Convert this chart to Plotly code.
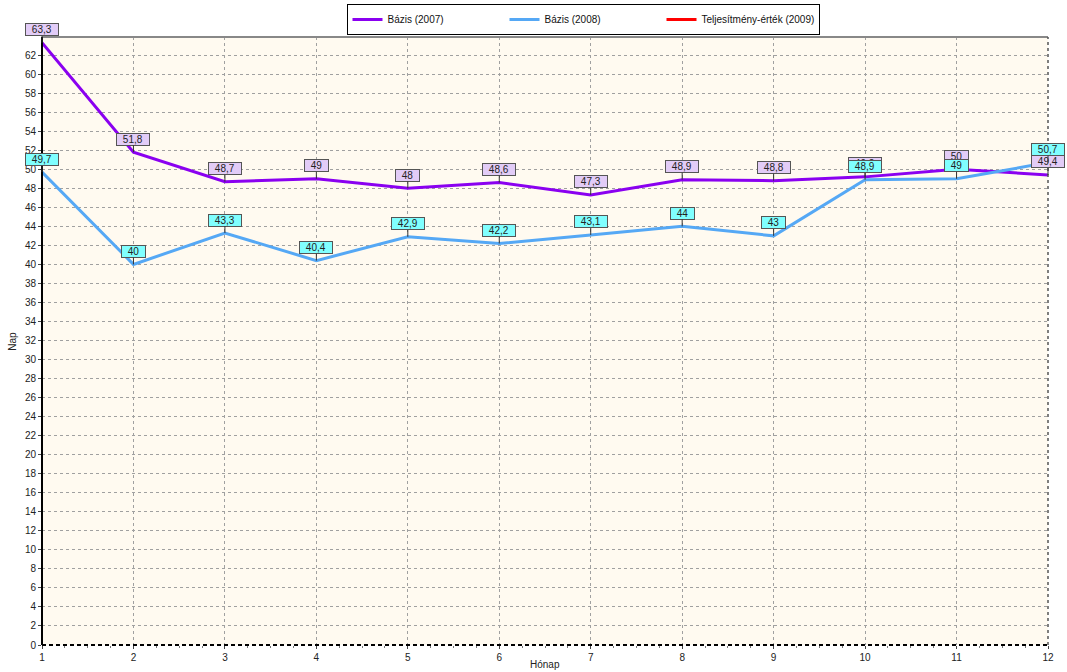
import plotly.graph_objects as go

months = list(range(1, 13))
tick_labels = [str(m) for m in months]
bazis_2007 = [63.3, 51.8, 48.7, 49, 48, 48.6, 47.3, 48.9, 48.8, 49.2, 50, 49.4]
bazis_2008 = [49.7, 40, 43.3, 40.4, 42.9, 42.2, 43.1, 44, 43, 48.9, 49, 50.7]
teljesitmeny_2009 = [None] * 12

C2007 = "#8A00F0"
C2008 = "#55A8F5"
C2009 = "#FF0000"
FONT = "Liberation Sans, Arial, sans-serif"

fig = go.Figure()
fig.add_trace(go.Scatter(x=months, y=bazis_2007, mode="lines", name="Bázis (2007)",
                         line=dict(color=C2007, width=3)))
fig.add_trace(go.Scatter(x=months, y=bazis_2008, mode="lines", name="Bázis (2008)",
                         line=dict(color=C2008, width=3)))
fig.add_trace(go.Scatter(x=months, y=teljesitmeny_2009, mode="lines",
                         name="Teljesítmény-érték (2009)",
                         line=dict(color=C2009, width=3), showlegend=True))

def fmt(v):
    return f"{v:g}".replace(".", ",")

def box_width(s):
    w = 0.0
    for ch in s:
        w += 2.8 if ch == "," else 5.6
    return w + 12

annotations = []
for series, bg in ((bazis_2007, "#E2CCF7"), (bazis_2008, "#80FFFF")):
    for m, v in zip(months, series):
        t = fmt(v)
        annotations.append(dict(
            x=m, y=v, xref="x", yref="y", text=t,
            width=box_width(t), height=11,
            showarrow=True, arrowhead=0, arrowwidth=1, arrowcolor="#333333",
            ax=0, ay=-13, standoff=0,
            bgcolor=bg, bordercolor="#555555", borderwidth=1, borderpad=0,
            font=dict(family=FONT, size=10, color="#222222"),
        ))

annotations.append(dict(text="Nap", xref="paper", yref="paper", x=-0.03, y=0.5,
                        xanchor="center", yanchor="middle",
                        textangle=-90, showarrow=False,
                        font=dict(family=FONT, size=10, color="#222222")))
annotations.append(dict(text="Hónap", xref="paper", yref="paper", x=0.5, y=-0.02,
                        yanchor="top", showarrow=False,
                        font=dict(family=FONT, size=10, color="#222222")))

shapes = [
    dict(type="line", xref="paper", yref="paper", x0=0, x1=1, y0=1, y1=1,
         line=dict(color="#888888", width=2)),
    dict(type="line", xref="paper", yref="paper", x0=0, x1=1, y0=0, y1=0,
         line=dict(color="#000000", width=2, dash="4px,3px")),
    dict(type="line", xref="paper", yref="paper", x0=0, x1=0, y0=0, y1=1,
         line=dict(color="#000000", width=2)),
    dict(type="line", xref="paper", yref="paper", x0=1, x1=1, y0=0, y1=1,
         line=dict(color="#555555", width=1.5, dash="3px,3px")),
]

fig.update_layout(
    width=1067, height=672,
    margin=dict(l=42, r=19, t=37, b=27, autoexpand=False),
    paper_bgcolor="white", plot_bgcolor="#FFFAF0",
    font=dict(family=FONT, size=10, color="#222222"),
    annotations=annotations, shapes=shapes,
    showlegend=True,
    legend=dict(orientation="h", xref="container", yref="container",
                x=583 / 1067, xanchor="center", y=1 - 4 / 672, yanchor="top",
                bgcolor="white", bordercolor="black", borderwidth=1,
                font=dict(family=FONT, size=10, color="#111111"),
                entrywidth=112, itemwidth=30, tracegroupgap=0),
    xaxis=dict(range=[1, 12], tickvals=months, ticktext=tick_labels,
               showgrid=True, gridcolor="#A0A0A0", griddash="3px,3px", gridwidth=1,
               zeroline=False, showline=False, ticks="outside", ticklen=3,
               tickcolor="#444444",
               minor=dict(dtick=0.25, ticks="outside", ticklen=2, tickcolor="#777777",
                          showgrid=False)),
    yaxis=dict(range=[0, 63.9], dtick=2, tick0=0,
               showgrid=True, gridcolor="#A0A0A0", griddash="3px,3px", gridwidth=1,
               zeroline=False, showline=False, ticks="outside", ticklen=3,
               tickcolor="#444444"),
)

fig.write_html("out.html", config={"displayModeBar": False},
               post_script="document.body.style.margin='0';")
